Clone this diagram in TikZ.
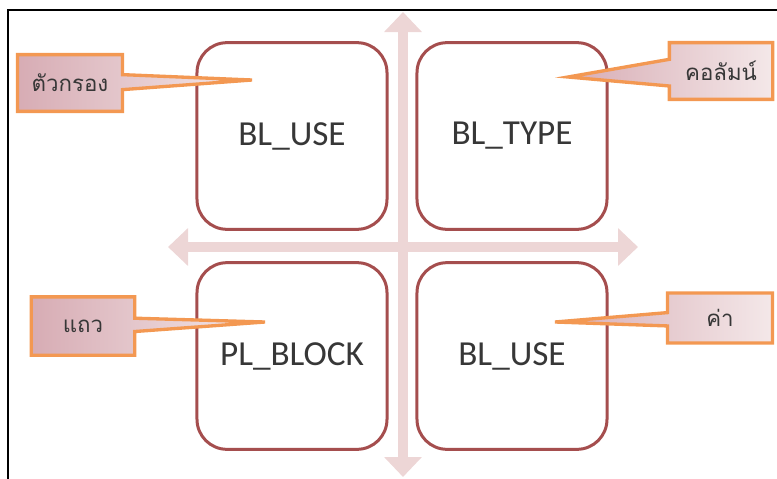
\documentclass[tikz,border=0pt]{standalone}
\usepackage{fontspec}
\setmainfont{Carlito}
\newfontfamily\thaifont[Script=Thai]{Loma}
\usetikzlibrary{shapes.callouts,arrows.meta}

\definecolor{boxred}{RGB}{165,78,78}
\definecolor{axispink}{RGB}{237,214,214}
\definecolor{noteorange}{RGB}{243,152,82}
\definecolor{notepink}{RGB}{215,172,180}
\definecolor{notelight}{RGB}{244,232,233}
\definecolor{textgray}{RGB}{55,55,55}

\begin{document}
\begin{tikzpicture}[x=0.03cm,y=-0.03cm,
  block/.style={draw=boxred, line width=0.09cm, fill=white, rounded corners=0.9cm,
    minimum width=5.7cm, minimum height=5.6cm, text=textgray, font=\fontsize{30}{36}\selectfont},
  note/.style={rectangle callout, draw=noteorange, line width=0.1cm,
    left color=notepink, right color=notelight, text=textgray,
    font=\thaifont\fontsize{19}{22}\selectfont, minimum width=3.1cm, minimum height=1.7cm},
  axis/.style={axispink, line width=0.3cm, >={Triangle[width=1.1cm,length=0.6cm]}, <->}]
\useasboundingbox (0,0) rectangle (777,479);

% frame
\draw[line width=0.06cm] (8,479) -- (8,10) -- (777,10);

% axes
\coordinate (N) at (403,12);
\coordinate (S) at (403,477);
\coordinate (W) at (168,247);
\coordinate (E) at (638,247);
\draw[axis] (N) -- (S);
\draw[axis] (W) -- (E);

% the four blocks
\node[block] (use) at (292,136) {BL\_USE};
\node[block] (type) at (512,136) {BL\_TYPE};
\node[block] (block) at (292,356) {PL\_BLOCK};
\node[block] (value) at (512,356) {BL\_USE};

% callouts
\coordinate (filtertip) at (252,80);
\coordinate (columntip) at (568,77);
\coordinate (rowtip) at (265,322);
\coordinate (valuetip) at (555,322);

\node[note, minimum width=3.15cm, callout pointer width=0.45cm,
  callout absolute pointer={(filtertip)}] (filter) at (70,83) {ตัวกรอง};
\node[note, callout pointer width=0.8cm,
  callout absolute pointer={(columntip)}] (column) at (721,71) {คอลัมน์};
\node[note, minimum height=1.75cm, callout pointer width=0.4cm,
  callout absolute pointer={(rowtip)}] (row) at (83,326) {แถว};
\node[note, minimum width=3.15cm, minimum height=1.5cm, callout pointer width=0.4cm,
  callout absolute pointer={(valuetip)}] (cell) at (720,318) {ค่า};
\end{tikzpicture}
\end{document}
